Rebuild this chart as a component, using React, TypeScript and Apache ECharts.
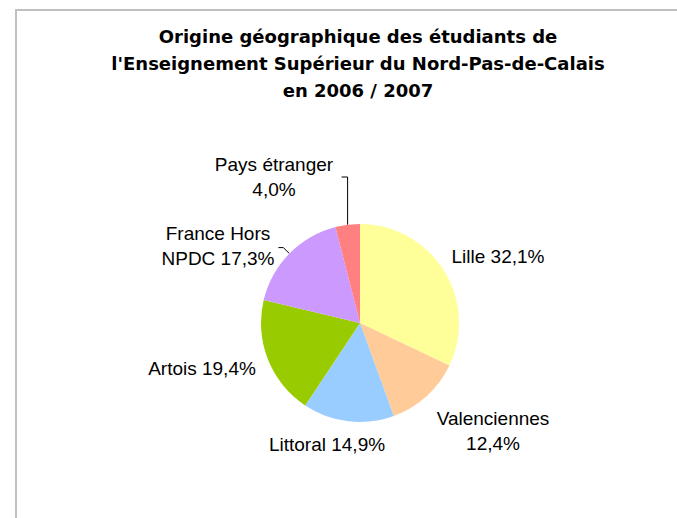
import React, { useEffect, useRef } from "react";
import * as echarts from "echarts";

// ---- Data ----
const categories: string[] = [
  "Lille",
  "Valenciennes",
  "Littoral",
  "Artois",
  "France Hors NPDC",
  "Pays étranger",
];
const shares: number[] = [32.1, 12.4, 14.9, 19.4, 17.3, 4.0];
const colors: string[] = ["#FFFF99", "#FFCC99", "#99CCFF", "#99CC00", "#CC99FF", "#FF8080"];

const titleText =
  "Origine géographique des étudiants de\nl'Enseignement Supérieur du Nord-Pas-de-Calais\nen 2006 / 2007";

// ---- Layout (label anchors, not data) ----
const labelAnchors: Record<string, { x: number; y: number }> = {
  Lille: { x: 498, y: 256 },
  Valenciennes: { x: 493, y: 431 },
  Littoral: { x: 327, y: 444 },
  Artois: { x: 202, y: 368 },
  "France Hors NPDC": { x: 218, y: 246 },
  "Pays étranger": { x: 274, y: 177 },
};

const fmt = (v: number) => v.toFixed(1).replace(".", ",") + "%";

function labelText(name: string, value: number): string {
  if (name === "France Hors NPDC") return "France Hors\nNPDC " + fmt(value);
  if (name === "Pays étranger" || name === "Valenciennes") return name + "\n" + fmt(value);
  return name + " " + fmt(value);
}

export default function App() {
  const ref = useRef<HTMLDivElement>(null);

  useEffect(() => {
    if (!ref.current) return;
    const chart = echarts.init(ref.current, undefined, { renderer: "svg" });

    const data = categories.map((name, i) => ({
      name,
      value: shares[i],
      itemStyle: { color: colors[i] },
      labelLine: { show: name === "Pays étranger" || name === "France Hors NPDC" },
    }));

    chart.setOption({
      animation: false,
      backgroundColor: "#ffffff",
      title: {
        text: titleText,
        left: 358,
        top: 23,
        padding: 0,
        textAlign: "center",
        textStyle: {
          fontFamily: "DejaVu Sans",
          fontWeight: "bold",
          fontSize: 18,
          lineHeight: 27,
          color: "#000000",
        },
      },
      graphic: [
        {
          type: "rect",
          silent: true,
          shape: { x: 16, y: 10, width: 900, height: 900 },
          style: { fill: "none", stroke: "#c0c0c0", lineWidth: 2 },
        },
      ],
      series: [
        {
          type: "pie",
          center: [360, 323],
          radius: 99,
          startAngle: 90,
          clockwise: true,
          silent: true,
          avoidLabelOverlap: false,
          itemStyle: { borderWidth: 0 },
          emphasis: { disabled: true },
          label: {
            show: true,
            position: "outside",
            fontFamily: "Liberation Sans",
            fontSize: 19,
            lineHeight: 25,
            color: "#000000",
            formatter: (p: any) => labelText(p.name, p.value),
          },
          labelLine: {
            show: false,
            lineStyle: { color: "#000000", width: 1 },
          },
          labelLayout: (params: any) => {
            const name = categories[params.dataIndex];
            const a = labelAnchors[name];
            const out: any = { x: a.x, y: a.y, align: "center", verticalAlign: "middle" };
            const pts = params.labelLinePoints;
            if (pts && pts.length) {
              const e = pts[0];
              if (name === "Pays étranger") {
                out.labelLinePoints = [
                  [e[0], e[1]],
                  [e[0], a.y],
                  [e[0] - 6, a.y],
                ];
              } else if (name === "France Hors NPDC") {
                out.labelLinePoints = [
                  [e[0], e[1]],
                  [e[0] - 6, e[1] - 6],
                  [e[0] - 11, e[1] - 6],
                ];
              }
            }
            return out;
          },
          data,
        },
      ],
    });

    return () => chart.dispose();
  }, []);

  return (
    <div
      ref={ref}
      style={{ position: "fixed", left: 0, top: 0, width: 677, height: 518, background: "#fff" }}
    />
  );
}
